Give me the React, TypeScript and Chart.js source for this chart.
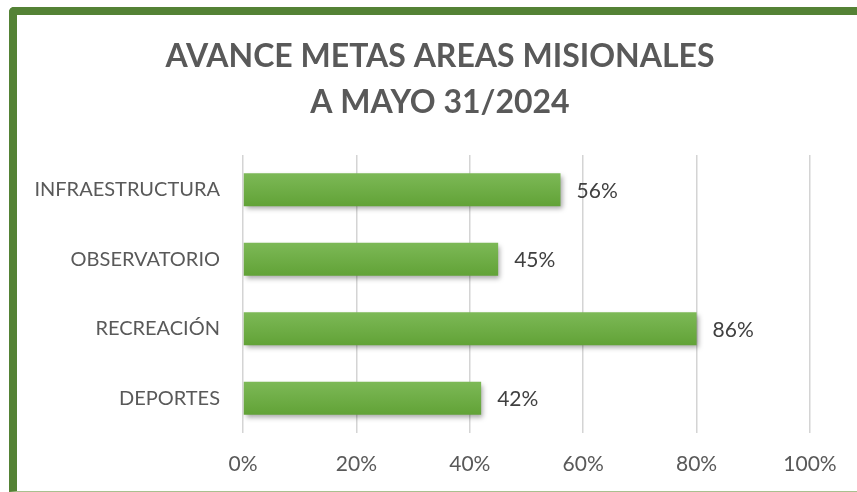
import React, { useEffect, useRef } from "react";
import { Chart, registerables } from "chart.js";

Chart.register(...registerables);

const titleLines = ["AVANCE METAS AREAS MISIONALES", "A MAYO 31/2024"];
const categories = ["INFRAESTRUCTURA", "OBSERVATORIO", "RECREACIÓN", "DEPORTES"];
const barValues = [56, 45, 80, 42];
const labelTexts = ["56%", "45%", "86%", "42%"];
const xTicks = [0, 20, 40, 60, 80, 100];

const FONT = "Lato, 'Open Sans', sans-serif";

export default function App() {
  const ref = useRef<HTMLCanvasElement | null>(null);

  useEffect(() => {
    const canvas = ref.current;
    if (!canvas) return;

    const titlePlugin = {
      id: "customTitle",
      afterDraw(chart: any) {
        const ctx = chart.ctx;
        ctx.save();
        ctx.fillStyle = "#595959";
        ctx.font = `bold 32px ${FONT}`;
        ctx.textAlign = "center";
        ctx.textBaseline = "middle";
        ctx.fillText(titleLines[0], 440, 57);
        ctx.fillText(titleLines[1], 440, 103);
        ctx.restore();
      },
    };

    const shadowPlugin = {
      id: "barShadow",
      beforeDatasetsDraw(chart: any) {
        const ctx = chart.ctx;
        ctx.save();
        ctx.shadowColor = "rgba(0,0,0,0.35)";
        ctx.shadowBlur = 5;
        ctx.shadowOffsetX = 2;
        ctx.shadowOffsetY = 3;
      },
      afterDatasetsDraw(chart: any) {
        chart.ctx.restore();
        const ctx = chart.ctx;
        const meta = chart.getDatasetMeta(0);
        ctx.save();
        ctx.fillStyle = "#404040";
        ctx.font = `21px ${FONT}`;
        ctx.textAlign = "left";
        ctx.textBaseline = "middle";
        meta.data.forEach((el: any, i: number) => {
          ctx.fillText(labelTexts[i], el.x + 16, el.y + 1);
        });
        ctx.restore();
      },
    };

    const chart = new Chart(canvas, {
      type: "bar",
      data: {
        labels: categories,
        datasets: [
          {
            data: barValues,
            backgroundColor: (c: any) => {
              const ch = c.chart;
              const ys = ch.scales && ch.scales.y;
              if (!ys || c.dataIndex === undefined) return "#6aab3f";
              const cy = ys.getPixelForValue(c.dataIndex);
              if (!Number.isFinite(cy)) return "#6aab3f";
              const g = ch.ctx.createLinearGradient(0, cy - 17, 0, cy + 17);
              g.addColorStop(0, "#7db957");
              g.addColorStop(1, "#61a236");
              return g;
            },
            borderWidth: 0,
            categoryPercentage: 0.95,
            barPercentage: 0.5,
          },
        ],
      },
      options: {
        indexAxis: "y",
        animation: false,
        responsive: false,
        maintainAspectRatio: false,
        layout: { padding: { left: 17, right: 47, top: 155, bottom: 9 } },
        plugins: {
          legend: { display: false },
          title: { display: false },
          tooltip: { enabled: false },
        },
        scales: {
          x: {
            min: 0,
            max: 100,
            afterBuildTicks: (s: any) => {
              s.ticks = xTicks.map((v) => ({ value: v }));
            },
            afterFit: (s: any) => {
              s.height = 50;
            },
            grid: { color: "#d4d4d4", lineWidth: 1.5, drawTicks: false },
            border: { display: false },
            ticks: {
              padding: 19,
              color: "#595959",
              font: { family: FONT, size: 21 },
              callback: (v: any) => `${v}%`,
            },
          },
          y: {
            afterFit: (s: any) => {
              s.width = 226;
            },
            grid: { display: false, drawTicks: false },
            border: { display: false },
            ticks: {
              padding: 23,
              color: "#595959",
              font: { family: FONT, size: 20 },
            },
          },
        },
      },
      plugins: [shadowPlugin, titlePlugin],
    } as any);

    return () => chart.destroy();
  }, []);

  return (
    <div
      style={{
        position: "absolute",
        left: 0,
        top: 0,
        width: 857,
        height: 492,
        overflow: "hidden",
        background: "#ffffff",
      }}
    >
      <div
        style={{
          position: "absolute",
          left: 9,
          top: 7,
          width: 880,
          height: 476,
          borderLeft: "8px solid #548235",
          borderTop: "8px solid #548235",
          borderBottom: "1px solid #a9c08f",
          borderTopLeftRadius: 5,
        }}
      />
      <canvas
        ref={ref}
        width={857}
        height={492}
        style={{ position: "absolute", left: 0, top: 0, width: 857, height: 492 }}
      />
    </div>
  );
}
